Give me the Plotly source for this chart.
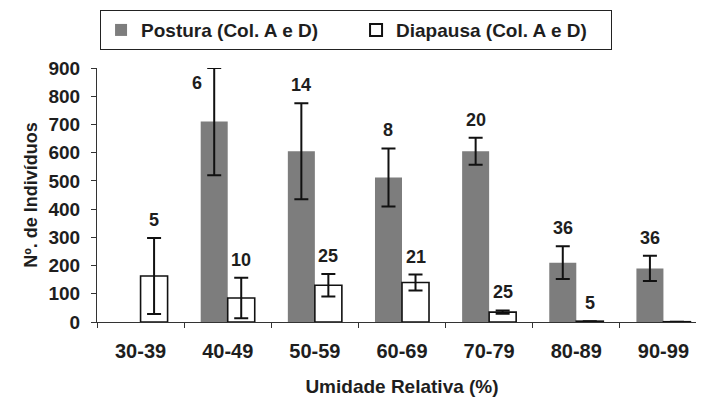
import plotly.graph_objects as go

categories = ["30-39", "40-49", "50-59", "60-69", "70-79", "80-89", "90-99"]
postura = [None, 710, 605, 512, 605, 210, 190]
postura_err = [None, 190, 170, 103, 48, 58, 45]
postura_n = [None, "6", "14", "8", "20", "36", "36"]
diapausa = [163, 85, 130, 140, 35, 3, 1]
diapausa_err = [135, 72, 40, 28, 6, 0, 0]
diapausa_n = ["5", "10", "25", "21", "25", "5", None]

FONT = "Liberation Sans, Arial, sans-serif"
TXT = "#1e1e1e"
BARGAP = 0.38
YMAX = 900
W = "bold"

fig = go.Figure()
fig.add_trace(go.Bar(
    name="Postura (Col. A e D)", x=categories, y=postura,
    marker=dict(color="#7d7d7d", line=dict(color="#7d7d7d", width=0)),
    error_y=dict(type="data", array=postura_err, visible=True,
                 color="#111111", thickness=2, width=7),
))
fig.add_trace(go.Bar(
    name="Diapausa (Col. A e D)", x=categories, y=diapausa,
    marker=dict(color="white", line=dict(color="#111111", width=1.6)),
    error_y=dict(type="data", array=diapausa_err, visible=True,
                 color="#111111", thickness=2, width=7),
))

half = (1 - BARGAP) / 4
for i in range(len(categories)):
    for vals, errs, labels, off in ((postura, postura_err, postura_n, -half),
                                    (diapausa, diapausa_err, diapausa_n, half)):
        lab = labels[i]
        if lab is None:
            continue
        top = vals[i] + errs[i]
        if top >= YMAX * 0.97:
            fig.add_annotation(x=i + off, y=YMAX, xref="x", yref="y", text=lab,
                               showarrow=False, xanchor="center", yanchor="top",
                               xshift=-17, yshift=-3,
                               font=dict(family=FONT, size=18, color=TXT, weight=W))
        else:
            fig.add_annotation(x=i + off, y=top, xref="x", yref="y", text=lab,
                               showarrow=False, xanchor="center", yanchor="bottom",
                               yshift=6,
                               font=dict(family=FONT, size=18, color=TXT, weight=W))

fig.update_layout(
    width=704, height=402,
    margin=dict(l=89, r=5, t=60, b=88, autoexpand=False),
    paper_bgcolor="white", plot_bgcolor="white",
    barmode="group", bargap=BARGAP, bargroupgap=0,
    font=dict(family=FONT, color=TXT),
    showlegend=True,
    legend=dict(orientation="h", x=0.005, xanchor="left", y=1.228, yanchor="top",
                bordercolor="#222222", borderwidth=1, bgcolor="white",
                font=dict(family=FONT, size=19, color=TXT, weight=W),
                entrywidth=210, entrywidthmode="pixels",
                itemsizing="constant", traceorder="normal"),
)
fig.update_xaxes(
    type="category", range=[-0.5, 6.5],
    showline=True, linecolor="#333333", linewidth=1.2,
    ticks="outside", tickson="boundaries", ticklen=5, tickcolor="#333333",
    showgrid=False, zeroline=False, ticklabelstandoff=11,
    tickfont=dict(family=FONT, size=20, color=TXT, weight=W),
    title=dict(text="Umidade Relativa (%)", standoff=18,
               font=dict(family=FONT, size=19, color=TXT, weight=W)),
)
fig.update_yaxes(
    range=[0, YMAX], tick0=0, dtick=100,
    showline=True, linecolor="#333333", linewidth=1.2,
    ticks="outside", ticklen=5, tickcolor="#333333",
    showgrid=False, zeroline=False, ticklabelstandoff=7,
    tickfont=dict(family=FONT, size=19, color=TXT, weight=W),
    title=dict(text="Nº. de Indivíduos", standoff=6,
               font=dict(family=FONT, size=18, color=TXT, weight=W)),
)

fig.write_html("out.html")
